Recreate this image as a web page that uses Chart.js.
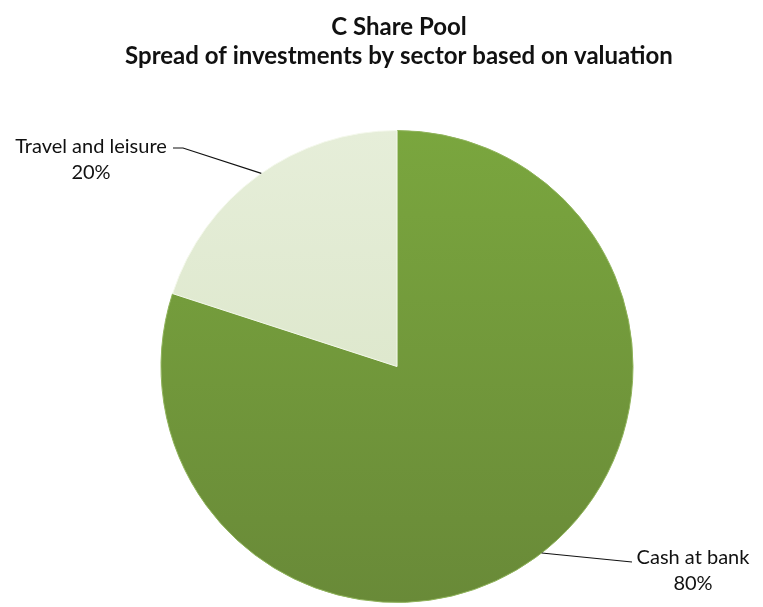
<!DOCTYPE html>
<html>
<head>
<meta charset="utf-8">
<script src="https://cdn.jsdelivr.net/npm/chart.js@4.4.1/dist/chart.umd.min.js"></script>
<style>
  html, body { margin: 0; padding: 0; background: #fff; }
  #wrap { width: 763px; height: 607px; position: relative; }
</style>
</head>
<body>
<div id="wrap"><canvas id="pieChart"></canvas></div>
<script>
// chart data
const sectors = ["Cash at bank", "Travel and leisure"];
const shares = [80, 20];
const titleLines = ["C Share Pool", "Spread of investments by sector based on valuation"];

// slice fill with a soft vertical gradient like the original
function sliceFill(ctx) {
    const chart = ctx.chart;
    const area = chart.chartArea;
    if (!area) return ctx.dataIndex === 0 ? "#73993b" : "#dfe8cf";
    const g = chart.ctx.createLinearGradient(0, area.top, 0, area.bottom);
    if (ctx.dataIndex === 0) {
        g.addColorStop(0, "#7aa63e");
        g.addColorStop(1, "#698a38");
    } else {
        g.addColorStop(0, "#e6eed9");
        g.addColorStop(1, "#d6e2c2");
    }
    return g;
}

// title drawn by hand so the pie keeps its place
const titlePlugin = {
    id: "titleText",
    afterDraw(chart) {
        const c = chart.ctx;
        c.save();
        c.fillStyle = "#111";
        c.font = "bold 24px Lato";
        c.textAlign = "center";
        c.textBaseline = "middle";
        c.fillText(titleLines[0], 399, 27);
        c.fillText(titleLines[1], 399, 56);
        c.restore();
    }
};

// outside labels with leader lines
const labelPlugin = {
    id: "leaderLabels",
    afterDatasetsDraw(chart) {
        const c = chart.ctx;
        const arcs = chart.getDatasetMeta(0).data;
        c.save();
        c.font = "20px Lato";
        c.fillStyle = "#111";
        c.strokeStyle = "#111";
        c.lineWidth = 1.2;
        c.textBaseline = "middle";
        arcs.forEach((arc, i) => {
            const p = arc.getProps(["x", "y", "startAngle", "endAngle", "outerRadius"], true);
            let anchorAngle, lx, ly, tx, ty;
            if (i === 0) {
                anchorAngle = Math.PI * 0.29;
                lx = 632; ly = 562; tx = 693; ty = 558;
            } else {
                anchorAngle = -Math.PI * 0.695;
                lx = 173; ly = 148; tx = 91; ty = 147;
            }
            const ax = p.x + Math.cos(anchorAngle) * p.outerRadius;
            const ay = p.y + Math.sin(anchorAngle) * p.outerRadius;
            c.beginPath();
            c.moveTo(ax, ay);
            if (i === 0) {
                c.lineTo(lx, ly);
            } else {
                c.lineTo(lx + 10, ly);
                c.lineTo(lx, ly);
            }
            c.stroke();
            c.textAlign = "center";
            c.fillText(sectors[i], tx, ty);
            c.fillText(shares[i] + "%", tx, ty + 26);
        });
        c.restore();
    }
};

new Chart(document.getElementById("pieChart"), {
    type: "pie",
    data: {
        labels: sectors,
        datasets: [{
            data: shares,
            backgroundColor: sliceFill,
            borderColor: ["#8fb35a", "#f4f8ec"],
            borderWidth: 1
        }]
    },
    options: {
        responsive: true,
        maintainAspectRatio: false,
        animation: false,
        layout: { padding: { top: 130, bottom: 4, left: 40, right: 9 } },
        plugins: {
            legend: { display: false },
            title: { display: false },
            tooltip: { enabled: false }
        }
    },
    plugins: [titlePlugin, labelPlugin]
});
</script>
</body>
</html>
